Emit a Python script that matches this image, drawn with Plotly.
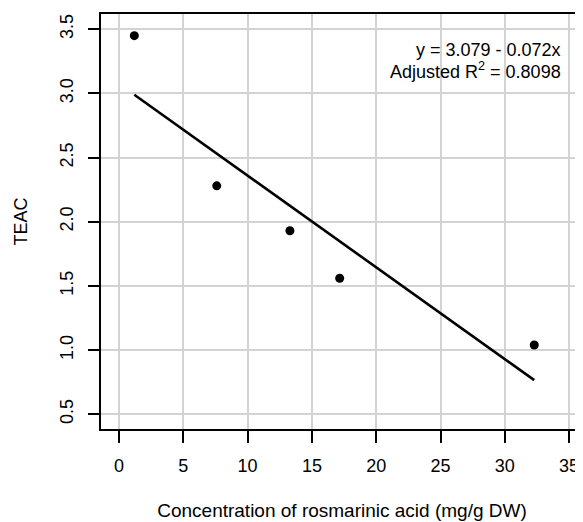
import plotly.graph_objects as go

# data
conc = [1.19, 7.60, 13.29, 17.16, 32.29]
teac = [3.45, 2.28, 1.93, 1.56, 1.04]
fit_x = [1.19, 32.29]
fit_y = [2.99, 0.766]
x_ticks = [0, 5, 10, 15, 20, 25, 30, 35]
y_ticks = [0.5, 1.0, 1.5, 2.0, 2.5, 3.0, 3.5]
eq_text = "y = 3.079 - 0.072x"
r2_text = "Adjusted R<sup>2</sup> = 0.8098"

FONT = "Liberation Sans, Arial, Helvetica, sans-serif"

fig = go.Figure()
fig.add_trace(go.Scatter(x=fit_x, y=fit_y, mode="lines",
                         line=dict(color="black", width=2.6), showlegend=False))
fig.add_trace(go.Scatter(x=conc, y=teac, mode="markers",
                         marker=dict(color="black", size=9), showlegend=False))

fig.add_annotation(x=0.9585, y=0.913, xref="paper", yref="paper", text=eq_text,
                   showarrow=False, xanchor="right", yanchor="middle",
                   font=dict(size=18, color="black", family=FONT))
fig.add_annotation(x=0.9585, y=0.865, xref="paper", yref="paper", text=r2_text,
                   showarrow=False, xanchor="right", yanchor="middle",
                   font=dict(size=18, color="black", family=FONT))

# the page's body has an 8px default margin, so the figure is sized/offset for it
fig.update_layout(
    width=575, height=514,
    margin=dict(l=93, r=0, t=6, b=93, autoexpand=False),
    paper_bgcolor="white", plot_bgcolor="white",
    font=dict(family=FONT, size=18, color="black"),
    xaxis=dict(range=[-1.4, 36.08], tickvals=x_ticks, ticktext=[str(v) for v in x_ticks],
               showgrid=True, gridcolor="#d3d3d3", gridwidth=1.5,
               showline=True, linecolor="black", linewidth=1.5, mirror=True,
               ticks="outside", ticklen=12, tickwidth=1.5, tickcolor="black",
               zeroline=False, ticklabelstandoff=8, automargin=False,
               title=dict(text="Concentration of rosmarinic acid (mg/g DW)",
                          font=dict(size=19), standoff=28)),
    yaxis=dict(range=[0.385, 3.619], tickvals=y_ticks, ticktext=[f"{v:.1f}" for v in y_ticks],
               showgrid=True, gridcolor="#d3d3d3", gridwidth=1.5,
               showline=True, linecolor="black", linewidth=1.5,
               ticks="outside", ticklen=11, tickwidth=1.5, tickcolor="black",
               zeroline=False, tickangle=-90, ticklabelstandoff=8, automargin=False,
               title=dict(text="TEAC", font=dict(size=18), standoff=25)),
)

fig.write_html("out.html")
